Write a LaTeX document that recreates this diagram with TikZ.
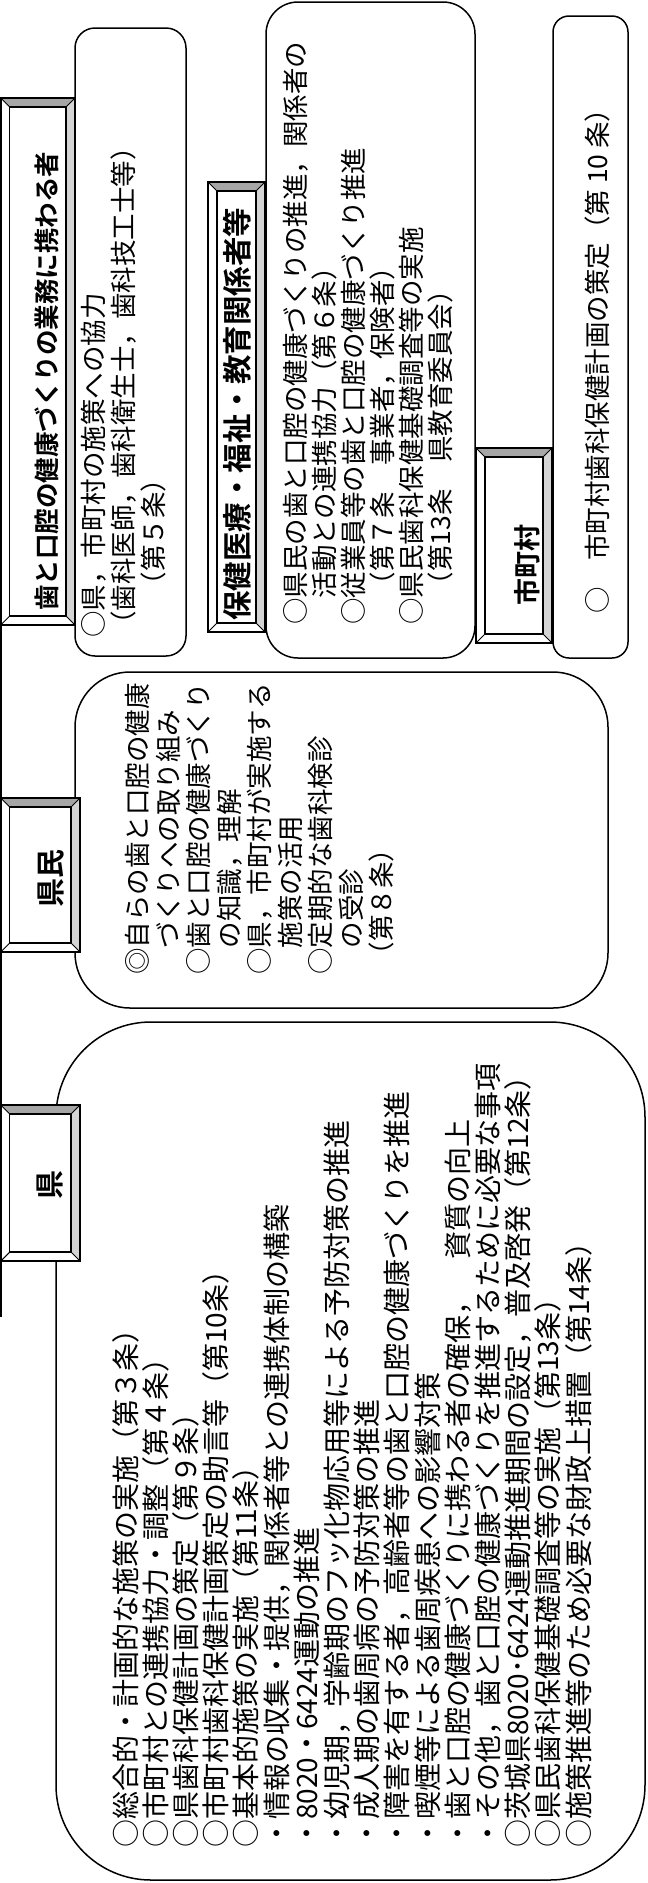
\documentclass[tikz,border=0pt]{standalone}
\usepackage{fontspec}
\newfontfamily\jp{Noto Sans CJK JP}
\newfontfamily\jpb{Noto Sans CJK JP Bold}
\usetikzlibrary{calc}

\definecolor{bevdark}{HTML}{A6A6A6}
\definecolor{bevlight}{HTML}{D4D4D4}

\tikzset{
  panel/.style={draw, line width=1.5pt, fill=white, rounded corners=#1, inner sep=0pt, outer sep=0pt},
  hdrbox/.style={fill=white, inner sep=0pt, outer sep=0pt},
  hdrtxt/.style={font=\jpb\fontsize{#1}{#1}\selectfont, rotate=90, inner sep=0pt},
  bodytxt/.style={rotate=90, anchor=north west, align=left, inner sep=0pt},
  conn/.style={line width=2pt},
}

\begin{document}
\begin{tikzpicture}[x=1pt, y=1pt]
	\useasboundingbox (0,0) rectangle (648,-1883);

	% panels
	\node[panel=95pt, minimum width=589pt, minimum height=858pt] (bk) at (350.5,-1451) {};
	\node[panel=55pt, minimum width=533pt, minimum height=336pt] (bkm) at (341.5,-840) {};
	\node[panel=20pt, minimum width=111pt, minimum height=628pt] (bha) at (130.5,-342) {};
	\node[panel=32pt, minimum width=209pt, minimum height=656pt] (bho) at (370.5,-330) {};
	\node[panel=16pt, minimum width=75pt, minimum height=642pt] (bshi) at (590.5,-337) {};

	% connector
	\coordinate (lend) at (0.75,-1317);
	\draw[conn] (0.75,-625) -- (lend);

	% headers
	\node[hdrbox, minimum width=74.25pt, minimum height=527pt] (hha) at (37.9,-361.5) {};
	\node[hdrbox, minimum width=57pt, minimum height=450pt] (hho) at (236.5,-407) {};
	\node[hdrbox, minimum width=76pt, minimum height=195pt] (hshi) at (514,-545.5) {};
	\node[hdrbox, minimum width=79.25pt, minimum height=154pt] (hkm) at (40.4,-875) {};
	\node[hdrbox, minimum width=79.25pt, minimum height=156pt] (hk) at (40.4,-1183) {};

	\foreach \h in {hha, hho, hshi, hkm, hk}{
		\fill[bevdark] (\h.north west) -- (\h.north east) -- ([shift={(-9,-9)}]\h.north east) -- ([shift={(9,-9)}]\h.north west) -- cycle;
		\fill[bevlight] (\h.north east) -- (\h.south east) -- ([shift={(-9,9)}]\h.south east) -- ([shift={(-9,-9)}]\h.north east) -- cycle;
		\draw[line width=1.2pt] ([shift={(9,-9)}]\h.north west) rectangle ([shift={(-9,9)}]\h.south east);
		\draw[line width=1pt] (\h.north west) -- ++(9,-9) (\h.north east) -- ++(-9,-9)
			(\h.south east) -- ++(-9,9) (\h.south west) -- ++(9,9);
		\draw[line width=1.5pt] (\h.north west) rectangle (\h.south east);
	}

	\node[hdrtxt=25.5pt] (thha) at (47,-381) {歯と口腔の健康づくりの業務に携わる者};
	\node[hdrtxt=29.5pt] (thho) at (237,-414) {保健医療・福祉・教育関係者等};
	\node[hdrtxt=27pt] (thshi) at (527,-565) {市町村};
	\node[hdrtxt=29pt] (thkm) at (51,-878) {県民};
	\node[hdrtxt=29pt] (thk) at (50,-1185) {県};

	% texts
	\node[bodytxt, font=\jp\fontsize{26.5pt}{30pt}\selectfont] (tha) at (81,-638) {%
		○県，市町村の施策への協力\\
		（歯科医師，歯科衛生士，歯科技工士等）\\
		\hspace{1.5em}（第５条）};

	\node[bodytxt, font=\jp\fontsize{26.5pt}{29pt}\selectfont] (tho) at (283,-625) {%
		○県民の歯と口腔の健康づくりの推進，関係者の\\
		　活動との連携協力（第６条）\\
		○従業員等の歯と口腔の健康づくり推進\\
		　（第７条　事業者，保険者）\\
		○県民歯科保健基礎調査等の実施\\
		　（第13条　県教育委員会）};

	\node[bodytxt, font=\jp\fontsize{26.5pt}{30pt}\selectfont] (tshi) at (585,-614) {%
		○　市町村歯科保健計画の策定（第 10 条）};

	\node[bodytxt, font=\jp\fontsize{26.5pt}{30.5pt}\selectfont] (tkm) at (125,-975) {%
		◎自らの歯と口腔の健康\\
		　づくりへの取り組み\\
		○歯と口腔の健康づくり\\
		　の知識，理解\\
		○県，市町村が実施する\\
		　施策の活用\\
		○定期的な歯科検診\\
		　の受診\\
		\hspace{0.25em}（第８条）};

	\node[bodytxt, font=\jp\fontsize{28pt}{30.2pt}\selectfont] (tk) at (112,-1848) {%
		○総合的・計画的な施策の実施（第３条）\\
		○市町村との連携協力・調整（第４条）\\
		○県歯科保健計画の策定（第９条）\\
		○市町村歯科保健計画策定の助言等（第10条）\\
		○基本的施策の実施（第11条）\\
		・情報の収集・提供，関係者等との連携体制の構築\\
		・8020・6424運動の推進\\
		・幼児期，学齢期のフッ化物応用等による予防対策の推進\\
		・成人期の歯周病の予防対策の推進\\
		・障害を有する者，高齢者等の歯と口腔の健康づくりを推進\\
		・喫煙等による歯周疾患への影響対策\\
		・歯と口腔の健康づくりに携わる者の確保，　資質の向上\\
		・その他，歯と口腔の健康づくりを推進するために必要な事項\\
		○茨城県8020･6424運動推進期間の設定，普及啓発（第12条）\\
		○県民歯科保健基礎調査等の実施（第13条）\\
		○施策推進等のため必要な財政上措置（第14条）};
\end{tikzpicture}
\end{document}
